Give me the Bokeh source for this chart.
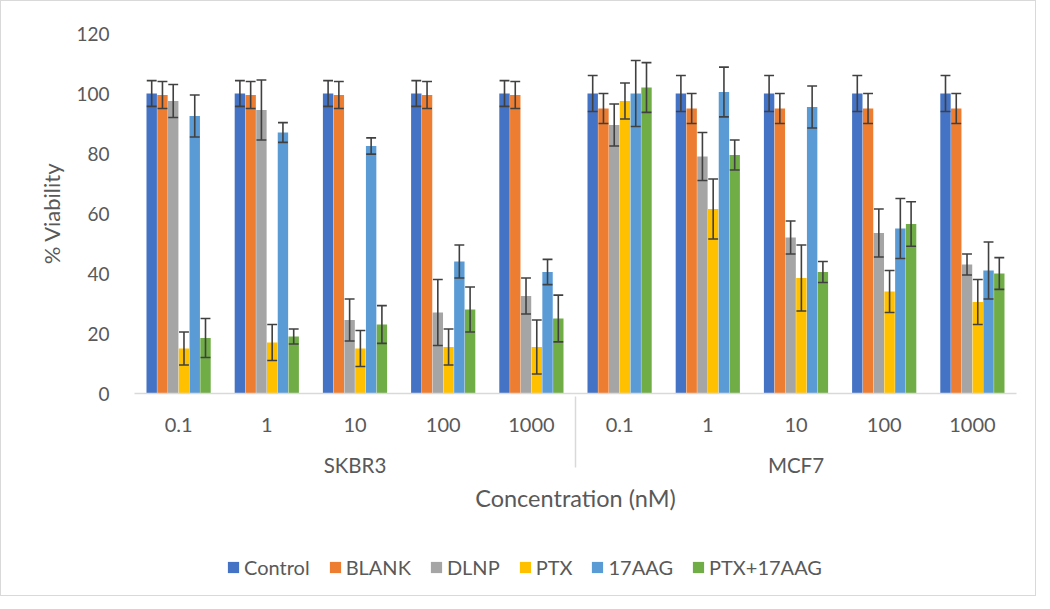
from bokeh.plotting import figure
from bokeh.layouts import column
from bokeh.models import (FactorRange, ColumnDataSource, Legend, LegendItem, Range1d,
                          SingleIntervalTicker)
from bokeh.transform import dodge
from bokeh.embed import file_html
from bokeh.resources import INLINE

cells = ["SKBR3", "MCF7"]
concs = ["0.1", "1", "10", "100", "1000"]
series = ["Control", "BLANK", "DLNP", "PTX", "17AAG", "PTX+17AAG"]
colors = ["#4472C4", "#ED7D31", "#A5A5A5", "#FFC000", "#5B9BD5", "#70AD47"]

control     = [100, 100, 100, 100, 100,   100, 100, 100, 100, 100]
control_err = [4.3, 4.3, 4.3, 4.3, 4.3,   6, 6, 6, 6, 6]
blank       = [99.5, 99.5, 99.5, 99.5, 99.5,   95, 95, 95, 95, 95]
blank_err   = [4.5, 4.5, 4.5, 4.5, 4.5,   5, 5, 5, 5, 5]
dlnp        = [97.5, 94.5, 24.5, 27, 32.5,   89.5, 79, 52, 53.5, 43]
dlnp_err    = [5.5, 10, 7, 11, 6,   7, 8, 5.5, 8, 3.5]
ptx         = [15, 17, 15, 15.5, 15.5,   97.5, 61.5, 38.5, 34, 30.5]
ptx_err     = [5.5, 6, 6, 6, 9,   6, 10, 11, 7, 7.5]
aag         = [92.5, 87, 82.5, 44, 40.5,   100, 100.5, 95.5, 55, 41]
aag_err     = [7, 3.3, 2.7, 5.5, 4.2,   11, 8.3, 7, 10, 9.5]
combo       = [18.5, 19, 23, 28, 25,   102, 79.5, 40.5, 56.5, 40]
combo_err   = [6.5, 2.5, 6.3, 7.5, 7.8,   8.3, 5, 3.5, 7.4, 5.3]

values = [control, blank, dlnp, ptx, aag, combo]
errors = [control_err, blank_err, dlnp_err, ptx_err, aag_err, combo_err]

factors = [(c, k) for c in cells for k in concs]

FONT = "Lato"
TXT = "#595959"
W = 1034

p = figure(width=W, height=534, output_backend="svg", toolbar_location=None,
           x_range=FactorRange(*factors, range_padding=0, group_padding=0,
                               subgroup_padding=0, factor_padding=0),
           y_range=Range1d(0, 120),
           min_border_left=133, min_border_right=19, min_border_top=32,
           min_border_bottom=142)
p.outline_line_color = None
p.grid.visible = False

step = 0.122
bw = 0.118
cap = 0.056
for i, (name, col, vals, errs) in enumerate(zip(series, colors, values, errors)):
    off = (i - 2.5) * step
    src = ColumnDataSource(dict(
        x=factors, top=vals,
        upper=[v + e for v, e in zip(vals, errs)],
        lower=[v - e for v, e in zip(vals, errs)],
    ))
    p.vbar(x=dodge("x", off, range=p.x_range), top="top", width=bw, source=src,
           fill_color=col, line_color=None)
    p.segment(x0=dodge("x", off, range=p.x_range), x1=dodge("x", off, range=p.x_range),
              y0="lower", y1="upper", source=src, line_color="#404040", line_width=1.6)
    for yk in ("upper", "lower"):
        p.segment(x0=dodge("x", off - cap, range=p.x_range),
                  x1=dodge("x", off + cap, range=p.x_range),
                  y0=yk, y1=yk, source=src, line_color="#404040", line_width=1.6)

# y axis
p.yaxis.ticker = SingleIntervalTicker(interval=20)
p.yaxis.axis_line_color = None
p.yaxis.major_tick_line_color = None
p.yaxis.major_tick_out = 0
p.yaxis.major_tick_in = 0
p.yaxis.minor_tick_line_color = None
p.yaxis.major_label_standoff = 21
p.yaxis.major_label_text_font = FONT
p.yaxis.major_label_text_font_size = "19px"
p.yaxis.major_label_text_color = TXT
p.yaxis.axis_label = "% Viability"
p.yaxis.axis_label_text_font = FONT
p.yaxis.axis_label_text_font_size = "22px"
p.yaxis.axis_label_text_font_style = "normal"
p.yaxis.axis_label_text_color = TXT
p.yaxis.axis_label_standoff = 8

# x axis
xa = p.xaxis[0]
xa.axis_line_color = "#d9d9d9"
xa.axis_line_width = 1.5
xa.major_tick_line_color = None
xa.minor_tick_line_color = None
xa.major_label_standoff = 18
xa.major_label_text_font = FONT
xa.major_label_text_font_size = "20px"
xa.major_label_text_color = TXT
xa.group_text_font = FONT
xa.group_text_font_size = "20.5px"
xa.group_text_color = TXT
xa.group_text_font_style = "normal"
xa.separator_line_color = "#d9d9d9"
xa.separator_line_width = 1.5
xa.axis_label = "Concentration (nM)"
xa.axis_label_text_font = FONT
xa.axis_label_text_font_size = "23.5px"
xa.axis_label_text_font_style = "normal"
xa.axis_label_text_color = TXT
xa.axis_label_standoff = 4

# legend strip (frame aligned with main plot frame by the column layout)
pl = figure(width=W, height=60, output_backend="svg", toolbar_location=None,
            x_range=Range1d(0, 1), y_range=Range1d(0, 1),
            x_axis_location=None, y_axis_location=None, min_border=0)
pl.outline_line_color = None
pl.grid.visible = False
items = []
for name, col in zip(series, colors):
    r = pl.vbar(x=[0.5], top=[0], bottom=[0], width=0.0, fill_color=col,
                line_color=None)
    items.append(LegendItem(label=name, renderers=[r]))
legend = Legend(items=items, orientation="horizontal", location=(92, 16),
                label_text_font=FONT, label_text_font_size="20px",
                label_text_color=TXT, glyph_width=14, glyph_height=14,
                label_standoff=4, spacing=18, border_line_color=None,
                background_fill_alpha=0, padding=4, margin=0)
pl.add_layout(legend, "center")

layout = column(p, pl, spacing=0)
layout.styles = {"border": "1px solid #d9d9d9"}
open("out.html", "w").write(file_html(layout, INLINE))
